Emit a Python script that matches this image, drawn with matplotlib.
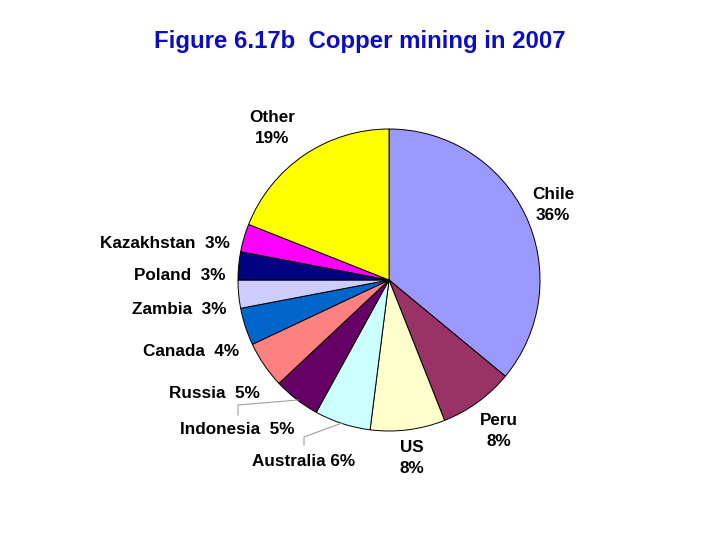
import matplotlib
matplotlib.use('Agg')
from matplotlib import pyplot as plt

# copper mining share by country, 2007 (clockwise from 12 o'clock)
countries = ['Chile', 'Peru', 'US', 'Australia', 'Indonesia', 'Russia',
             'Canada', 'Zambia', 'Poland', 'Kazakhstan', 'Other']
shares = [36, 8, 8, 6, 5, 5, 4, 3, 3, 3, 19]
colors = ['#9999FF', '#993366', '#FFFFCC', '#CCFFFF', '#660066', '#FF8080',
          '#0066CC', '#CCCCFF', '#000080', '#FF00FF', '#FFFF00']

# label placement in pixel coords (x, y from top), alignment, two-line or not
label_pos = {
    'Chile': (553, 205, 'center', True),
    'Peru': (499, 431, 'center', True),
    'US': (412, 458, 'center', True),
    'Australia': (355, 461, 'right', False),
    'Indonesia': (295, 430, 'right', False),
    'Russia': (260, 393, 'right', False),
    'Canada': (239, 351, 'right', False),
    'Zambia': (227, 309, 'right', False),
    'Poland': (226, 276, 'right', False),
    'Kazakhstan': (230, 244, 'right', False),
    'Other': (272, 128, 'center', True),
}

plt.rcParams['font.family'] = ['Liberation Sans', 'DejaVu Sans']

fig = plt.figure(figsize=(7.2, 5.4), dpi=100)
ax = fig.add_axes([0, 0, 1, 1])

ax.pie(shares, colors=colors, startangle=90, counterclock=False,
       center=(389, 540 - 280), radius=151, frame=True,
       wedgeprops=dict(edgecolor='black', linewidth=0.7))
ax.set_xlim(0, 720)
ax.set_ylim(0, 540)
ax.set_aspect('equal')
ax.axis('off')

for name, share in zip(countries, shares):
    x, y, ha, two = label_pos[name]
    if two:
        txt = f'{name}\n{share}%'
    else:
        txt = f'{name}  {share}%' if name != 'Australia' else f'{name} {share}%'
    ax.text(x, 540 - y, txt, ha=ha, va='center', fontsize=12.3,
            fontweight='bold', linespacing=1.45, color='black')

# leader lines for the two small labels
ax.plot([238, 238, 298], [540 - 415, 540 - 405, 540 - 400], color='#A0A0A0', lw=0.8)
ax.plot([304, 304, 342], [540 - 445, 540 - 437, 540 - 423], color='#A0A0A0', lw=0.8)

fig.text(360 / 720, 1 - 42 / 540, 'Figure 6.17b  Copper mining in 2007',
         ha='center', va='center', fontsize=17.3, fontweight='bold',
         color='#0C0CC4')

fig.savefig('out.png', dpi=100)
